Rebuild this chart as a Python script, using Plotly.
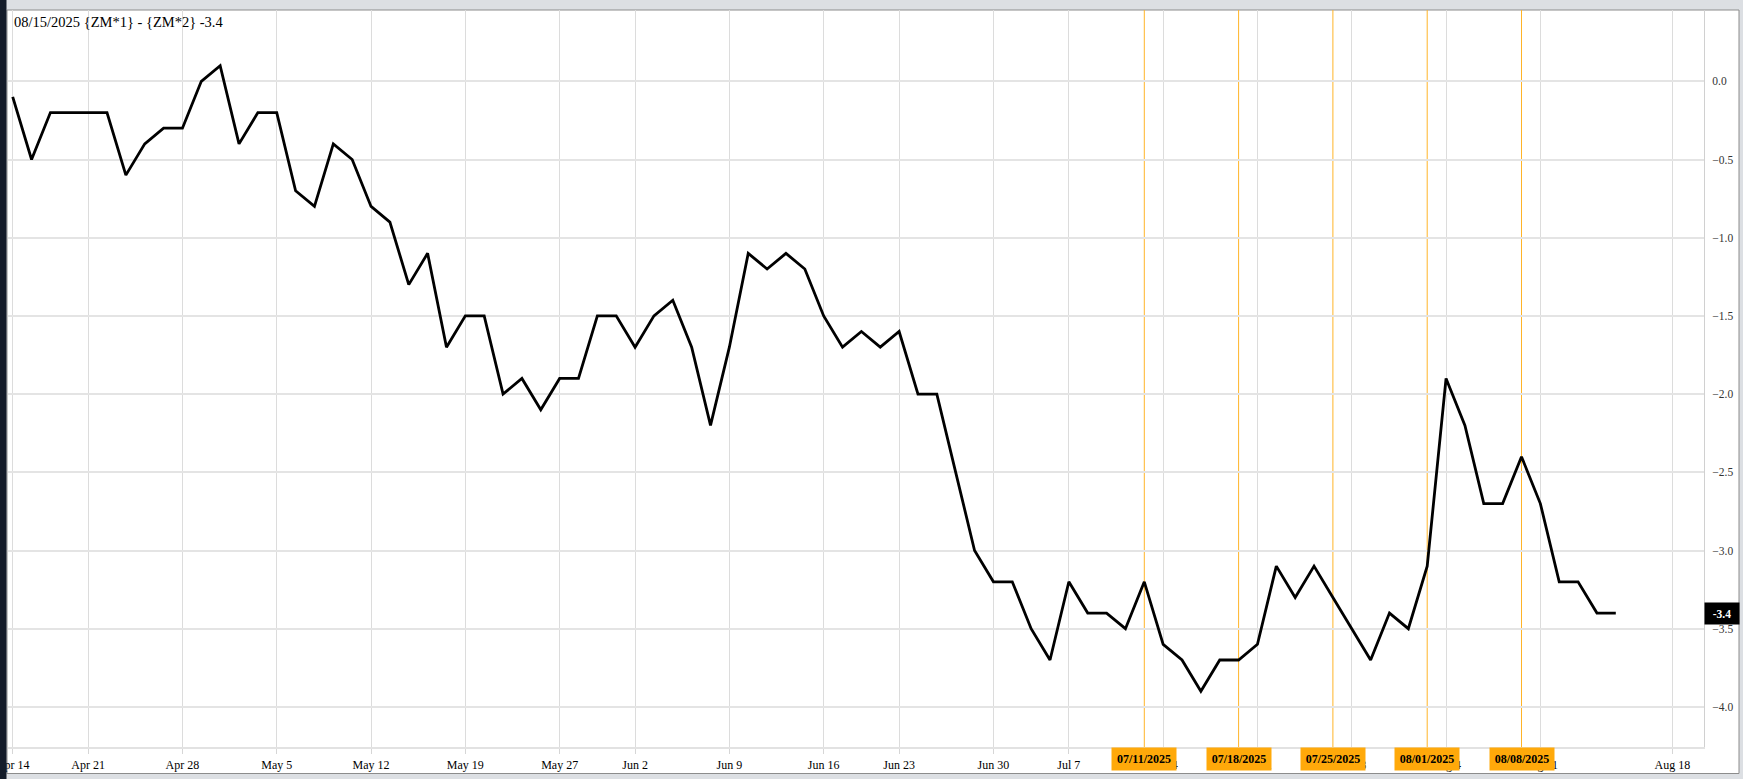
import datetime as dt
import plotly.graph_objects as go

# ---------------- data ----------------
dates = [
    "2025-04-14", "2025-04-15", "2025-04-16", "2025-04-17",
    "2025-04-21", "2025-04-22", "2025-04-23", "2025-04-24", "2025-04-25",
    "2025-04-28", "2025-04-29", "2025-04-30", "2025-05-01", "2025-05-02",
    "2025-05-05", "2025-05-06", "2025-05-07", "2025-05-08", "2025-05-09",
    "2025-05-12", "2025-05-13", "2025-05-14", "2025-05-15", "2025-05-16",
    "2025-05-19", "2025-05-20", "2025-05-21", "2025-05-22", "2025-05-23",
    "2025-05-27", "2025-05-28", "2025-05-29", "2025-05-30",
    "2025-06-02", "2025-06-03", "2025-06-04", "2025-06-05", "2025-06-06",
    "2025-06-09", "2025-06-10", "2025-06-11", "2025-06-12", "2025-06-13",
    "2025-06-16", "2025-06-17", "2025-06-18", "2025-06-20",
    "2025-06-23", "2025-06-24", "2025-06-25", "2025-06-26", "2025-06-27",
    "2025-06-30", "2025-07-01", "2025-07-02", "2025-07-03",
    "2025-07-07", "2025-07-08", "2025-07-09", "2025-07-10", "2025-07-11",
    "2025-07-14", "2025-07-15", "2025-07-16", "2025-07-17", "2025-07-18",
    "2025-07-21", "2025-07-22", "2025-07-23", "2025-07-24", "2025-07-25",
    "2025-07-28", "2025-07-29", "2025-07-30", "2025-07-31", "2025-08-01",
    "2025-08-04", "2025-08-05", "2025-08-06", "2025-08-07", "2025-08-08",
    "2025-08-11", "2025-08-12", "2025-08-13", "2025-08-14", "2025-08-15",
]

spread = [
    -0.1, -0.5, -0.2, -0.2, -0.2, -0.2, -0.6, -0.4, -0.3, -0.3, 0.0, 0.1, -0.4, -0.2,
    -0.2, -0.7, -0.8, -0.4, -0.5, -0.8, -0.9, -1.3, -1.1, -1.7, -1.5, -1.5,
    -2.0, -1.9, -2.1, -1.9, -1.9, -1.5, -1.5, -1.7, -1.5, -1.4, -1.7, -2.2,
    -1.7, -1.1, -1.2, -1.1, -1.2, -1.5, -1.7, -1.6, -1.7, -1.6, -2.0, -2.0, -2.5, -3.0,
    -3.2, -3.2, -3.5, -3.7, -3.2, -3.4, -3.4, -3.5, -3.2, -3.6, -3.7, -3.9, -3.7, -3.7, -3.6,
    -3.1, -3.3, -3.1, -3.3, -3.5, -3.7, -3.4, -3.5, -3.1,
    -1.9, -2.2, -2.7, -2.7, -2.4, -2.7, -3.2, -3.2, -3.4, -3.4,
]

tick_dates = [
    "2025-04-14", "2025-04-21", "2025-04-28", "2025-05-05", "2025-05-12",
    "2025-05-19", "2025-05-27", "2025-06-02", "2025-06-09", "2025-06-16",
    "2025-06-23", "2025-06-30", "2025-07-07", "2025-07-14", "2025-07-21",
    "2025-07-28", "2025-08-04", "2025-08-11", "2025-08-18",
]
tick_labels = [
    "Apr 14", "Apr 21", "Apr 28", "May 5", "May 12", "May 19", "May 27",
    "Jun 2", "Jun 9", "Jun 16", "Jun 23", "Jun 30", "Jul 7", "Jul 14",
    "Jul 21", "Jul 28", "Aug 4", "Aug 11", "Aug 18",
]

marker_dates = ["2025-07-11", "2025-07-18", "2025-07-25", "2025-08-01", "2025-08-08"]
marker_labels = ["07/11/2025", "07/18/2025", "07/25/2025", "08/01/2025", "08/08/2025"]

title_text = "08/15/2025 {ZM*1} - {ZM*2} -3.4"
y_ticks = [0.0, -0.5, -1.0, -1.5, -2.0, -2.5, -3.0, -3.5, -4.0]

# ---------------- positions (trading-day index, calendar days past the end) ----------------
last_day = dt.date.fromisoformat(dates[-1])
def pos(d):
    if d in dates:
        return dates.index(d)
    return len(dates) - 1 + (dt.date.fromisoformat(d) - last_day).days

xs = list(range(len(dates)))
tick_pos = [pos(d) for d in tick_dates]
marker_pos = [pos(d) for d in marker_dates]

# ---------------- layout geometry ----------------
W, H = 1743, 779
L, R, T, B = 8, 39, 10, 32
PW, PH = W - L - R, H - T - B

def px_x(p):
    return (p - L) / PW

def px_y(p):
    return (H - B - p) / PH

SERIF = "Liberation Serif, Times New Roman, serif"
ORANGE_LINE = "#FFB428"
ORANGE_BOX = "#FFA90A"

fig = go.Figure()
fig.add_trace(go.Scatter(
    x=xs, y=spread, mode="lines",
    line=dict(color="#000000", width=2.8),
    hoverinfo="skip", showlegend=False,
))

shapes = []
# outer frame
shapes.append(dict(type="rect", xref="paper", yref="paper",
                   x0=px_x(7), x1=px_x(1739), y0=px_y(773.5), y1=px_y(10),
                   line=dict(color="#8c8c8c", width=1), fillcolor="white", layer="below"))
# dark left stripe
shapes.append(dict(type="rect", xref="paper", yref="paper",
                   x0=px_x(-2), x1=px_x(6.5), y0=px_y(H + 2), y1=px_y(-2),
                   line=dict(width=0), fillcolor="#141c2a", layer="above"))
# orange vertical markers
for p in marker_pos:
    shapes.append(dict(type="line", xref="x", yref="paper", x0=p, x1=p, y0=0, y1=1,
                       line=dict(color=ORANGE_LINE, width=1), layer="below"))

annotations = []
annotations.append(dict(text=title_text, xref="paper", yref="paper",
                        x=px_x(12), y=px_y(22.5), xanchor="left", yanchor="middle",
                        showarrow=False, font=dict(family=SERIF, size=14.5, color="#000")))
for p, lab in zip(marker_pos, marker_labels):
    annotations.append(dict(text="<b>%s</b>" % lab, xref="x", yref="paper",
                            x=p, y=px_y(758.5), xanchor="center", yanchor="middle",
                            showarrow=False, bgcolor=ORANGE_BOX, width=60, height=18,
                            borderpad=2, font=dict(family=SERIF, size=12, color="#000")))
annotations.append(dict(text="<b>%.1f</b>" % spread[-1], xref="paper", yref="y",
                        x=1, y=spread[-1], xanchor="left", yanchor="middle",
                        showarrow=False, bgcolor="#000", width=30, height=17,
                        borderpad=2, font=dict(family=SERIF, size=11.5, color="#fff")))

x0 = -(12.7 - L) / 18.86
fig.update_layout(
    width=W, height=H,
    margin=dict(l=L, r=R, t=T, b=B, autoexpand=False),
    paper_bgcolor="#dcdfe3", plot_bgcolor="white",
    shapes=shapes, annotations=annotations,
    showlegend=False,
    xaxis=dict(
        range=[x0, x0 + PW / 18.86],
        tickvals=tick_pos, ticktext=tick_labels,
        showgrid=True, gridcolor="#dcdcdc", gridwidth=1,
        ticks="outside", ticklen=5, tickcolor="#d6d6d6", tickwidth=1,
        showline=True, linecolor="#e2e2e2", linewidth=2,
        zeroline=False, automargin=False,
        tickfont=dict(family=SERIF, size=12, color="#000"),
        ticklabelstandoff=1,
        ticklabeloverflow="allow",
    ),
    yaxis=dict(
        side="right",
        range=[-(747 - 81.3) / 156.4, (81.3 - 10) / 156.4],
        tickvals=y_ticks, tickformat=".1f",
        showgrid=True, gridcolor="#e4e4e4", gridwidth=2,
        ticks="", showline=True, linecolor="#d0d0d0", linewidth=1,
        zeroline=False, automargin=False,
        tickfont=dict(family=SERIF, size=11.5, color="#333"),
        ticklabelstandoff=5,
        ticklabeloverflow="allow",
    ),
)

fig.write_html(
    "out.html",
    config={"displayModeBar": False},
    post_script="document.body.style.margin='0';document.body.style.overflow='hidden';",
)
